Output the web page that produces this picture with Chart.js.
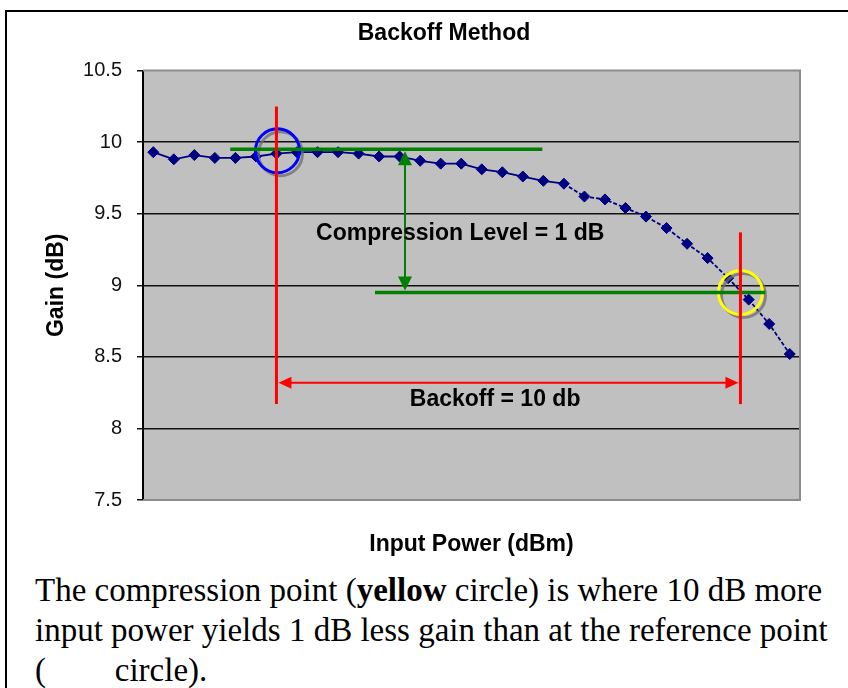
<!DOCTYPE html>
<html>
<head>
<meta charset="utf-8">
<script src="https://cdn.jsdelivr.net/npm/chart.js@4/dist/chart.umd.min.js"></script>
<style>
  html, body { margin: 0; padding: 0; background: #fff; overflow: hidden; }
  body { width: 848px; height: 688px; position: relative; }
  #frame {
    position: absolute; left: 5px; top: 10px; width: 900px; height: 800px;
    border-left: 2px solid #000; border-top: 2px solid #000;
  }
  #chart { position: absolute; left: 0; top: 0; }
  #caption {
    position: absolute; left: 35px; top: 570px; width: 840px;
    font-family: "Liberation Serif", "Times New Roman", serif;
    font-size: 33px; line-height: 40px; color: #000; white-space: nowrap;
  }
</style>
</head>
<body>
<div id="frame"></div>
<canvas id="chart" width="888" height="560"></canvas>
<div id="caption">The compression point (<b>yellow</b> circle) is where 10 dB more<br>input power yields 1 dB less gain than at the reference point<br>(<b style="color:#fff">blue</b> circle).</div>

<script>
// --- Data ---
// 32 input power steps, no tick labels shown on the x axis
const inputSteps = [
  "1", "2", "3", "4", "5", "6", "7", "8", "9", "10", "11", "12", "13", "14", "15", "16",
  "17", "18", "19", "20", "21", "22", "23", "24", "25", "26", "27", "28", "29", "30", "31", "32",
];
const gainDb = [
  9.93, 9.88, 9.91, 9.89, 9.89, 9.90, 9.92, 9.93, 9.93, 9.93, 9.92, 9.90, 9.90, 9.87, 9.85, 9.85,
  9.81, 9.79, 9.76, 9.73, 9.71, 9.62, 9.60, 9.54, 9.48, 9.40, 9.29, 9.19, 9.05, 8.90, 8.73, 8.52,
];
const yTicks = [7.5, 8, 8.5, 9, 9.5, 10, 10.5];

// annotation anchors, in data units (x = category index, y = gain dB)
const refPoint = [6.05, 9.94]; // blue circle
const compPoint = [28.6, 8.95]; // yellow circle
const refLevel = [3.75, 18.95, 9.95]; // green line: x from, x to, gain
const compLevel = [10.8, 29.8, 8.95];
const levelArrowX = 12.26;
const redLeft = [6.0, 10.25, 8.17]; // x, top gain, bottom gain
const redRight = [28.6, 9.37, 8.17];
const backoffArrowY = 8.32;
const compressionLabel = ["Compression Level = 1 dB", 14.95, 9.36];
const backoffLabel = ["Backoff = 10 db", 16.65, 8.2];

const BOLD = '"Liberation Sans", Arial, sans-serif';

function arrowHead(ctx, x, y, angle, len, half) {
  ctx.save();
  ctx.translate(x, y);
  ctx.rotate(angle);
  ctx.beginPath();
  ctx.moveTo(0, 0);
  ctx.lineTo(-len, -half);
  ctx.lineTo(-len, half);
  ctx.closePath();
  ctx.fill();
  ctx.restore();
}

function ring(ctx, x, y, r, color) {
  ctx.save();
  ctx.lineWidth = 3;
  ctx.strokeStyle = "rgba(110,110,110,0.75)";
  ctx.beginPath();
  ctx.arc(x + 3, y + 3, r, 0, Math.PI * 2);
  ctx.stroke();
  ctx.strokeStyle = color;
  ctx.beginPath();
  ctx.arc(x, y, r, 0, Math.PI * 2);
  ctx.stroke();
  ctx.restore();
}

const plotBg = {
  id: "plotBg",
  beforeDraw(chart) {
    const { ctx, chartArea: a } = chart;
    ctx.save();
    ctx.fillStyle = "#c0c0c0";
    ctx.fillRect(a.left, a.top, a.right - a.left, a.bottom - a.top);
    ctx.restore();
  },
  afterDraw(chart) {
    const { ctx, chartArea: a } = chart;
    ctx.save();
    ctx.strokeStyle = "#8c8c8c";
    ctx.lineWidth = 2;
    ctx.beginPath();
    ctx.moveTo(a.left, a.top);
    ctx.lineTo(a.right, a.top);
    ctx.lineTo(a.right, a.bottom);
    ctx.lineTo(a.left, a.bottom);
    ctx.stroke();
    ctx.restore();
  },
};

const markup = {
  id: "markup",
  afterDatasetsDraw(chart) {
    const { ctx } = chart;
    const xs = chart.scales.x;
    const ys = chart.scales.y;
    const px = (v) => xs.getPixelForValue(v);
    const py = (v) => ys.getPixelForValue(v);

    ctx.save();
    // circles
    ring(ctx, px(refPoint[0]), py(refPoint[1]), 22, "#0000ff");
    ring(ctx, px(compPoint[0]), py(compPoint[1]), 22, "#ffff00");

    // green level lines
    ctx.strokeStyle = "#008000";
    ctx.fillStyle = "#008000";
    ctx.lineWidth = 3.5;
    for (const [x0, x1, g] of [refLevel, compLevel]) {
      ctx.beginPath();
      ctx.moveTo(px(x0), py(g));
      ctx.lineTo(px(x1), py(g));
      ctx.stroke();
    }
    // green double arrow
    const gx = px(levelArrowX);
    const gTop = py(refLevel[2]) + 2;
    const gBot = py(compLevel[2]) - 2;
    ctx.lineWidth = 2;
    ctx.beginPath();
    ctx.moveTo(gx, gTop + 10);
    ctx.lineTo(gx, gBot - 10);
    ctx.stroke();
    arrowHead(ctx, gx, gTop, -Math.PI / 2, 14, 7);
    arrowHead(ctx, gx, gBot, Math.PI / 2, 14, 7);

    // red markers
    ctx.strokeStyle = "#ff0000";
    ctx.fillStyle = "#ff0000";
    ctx.lineWidth = 3;
    for (const [x, g0, g1] of [redLeft, redRight]) {
      ctx.beginPath();
      ctx.moveTo(px(x), py(g0));
      ctx.lineTo(px(x), py(g1));
      ctx.stroke();
    }
    const ay = py(backoffArrowY);
    const ax0 = px(redLeft[0]) + 2;
    const ax1 = px(redRight[0]) - 2;
    ctx.lineWidth = 2;
    ctx.beginPath();
    ctx.moveTo(ax0 + 8, ay);
    ctx.lineTo(ax1 - 8, ay);
    ctx.stroke();
    arrowHead(ctx, ax0, ay, Math.PI, 13, 6);
    arrowHead(ctx, ax1, ay, 0, 13, 6);

    // labels
    ctx.fillStyle = "#000";
    ctx.font = "bold 23px " + BOLD;
    ctx.textAlign = "center";
    ctx.textBaseline = "middle";
    for (const [txt, x, g] of [compressionLabel, backoffLabel]) {
      ctx.fillText(txt, px(x), py(g));
    }
    ctx.restore();
  },
};

new Chart(document.getElementById("chart"), {
  type: "line",
  data: {
    labels: inputSteps,
    datasets: [
      {
        data: gainDb,
        borderColor: "#000080",
        backgroundColor: "#000080",
        borderWidth: 1.8,
        pointStyle: "rectRot",
        pointRadius: 5.5,
        pointBorderWidth: 1,
        tension: 0,
        segment: {
          borderDash: (c) => (c.p0DataIndex >= 20 ? [4, 2] : undefined),
        },
      },
    ],
  },
  options: {
    responsive: false,
    animation: false,
    events: [],
    layout: { padding: 0 },
    plugins: {
      legend: { display: false },
      tooltip: { enabled: false },
      title: {
        display: true,
        text: "Backoff Method",
        color: "#000",
        font: { family: BOLD, size: 23, weight: "bold", lineHeight: 1.2 },
        padding: { top: 20, bottom: 23 },
      },
    },
    scales: {
      x: {
        type: "category",
        offset: true,
        ticks: { display: false },
        grid: { display: false, drawTicks: false },
        border: { display: false },
        title: {
          display: true,
          text: "Input Power (dBm)",
          color: "#000",
          font: { family: BOLD, size: 23, weight: "bold", lineHeight: 1.2 },
          padding: { top: 0, bottom: 2 },
        },
        afterFit: (s) => { s.height = 60; },
      },
      y: {
        min: 7.5,
        max: 10.5,
        afterBuildTicks: (s) => { s.ticks = yTicks.map((v) => ({ value: v })); },
        ticks: {
          color: "#111",
          padding: 15,
          font: { family: '"Liberation Sans", Arial, sans-serif', size: 20 },
          callback: (v) => String(v),
        },
        grid: {
          color: (c) => (c.tick && (c.tick.value === 10.5 || c.tick.value === 7.5) ? "rgba(0,0,0,0)" : "#111"),
          lineWidth: 1.5,
          tickColor: "#111",
          tickLength: 6,
        },
        border: { color: "#000", width: 2 },
        title: {
          display: true,
          text: "Gain (dB)",
          color: "#000",
          font: { family: BOLD, size: 23, weight: "bold", lineHeight: 1.2 },
          padding: { top: 43, bottom: 0 },
        },
        afterFit: (s) => { s.width = 143; },
      },
      yR: {
        position: "right",
        display: true,
        ticks: { display: false },
        grid: { display: false, drawTicks: false },
        border: { display: false },
        afterFit: (s) => { s.width = 88; },
      },
    },
  },
  plugins: [plotBg, markup],
});
</script>
</body>
</html>
